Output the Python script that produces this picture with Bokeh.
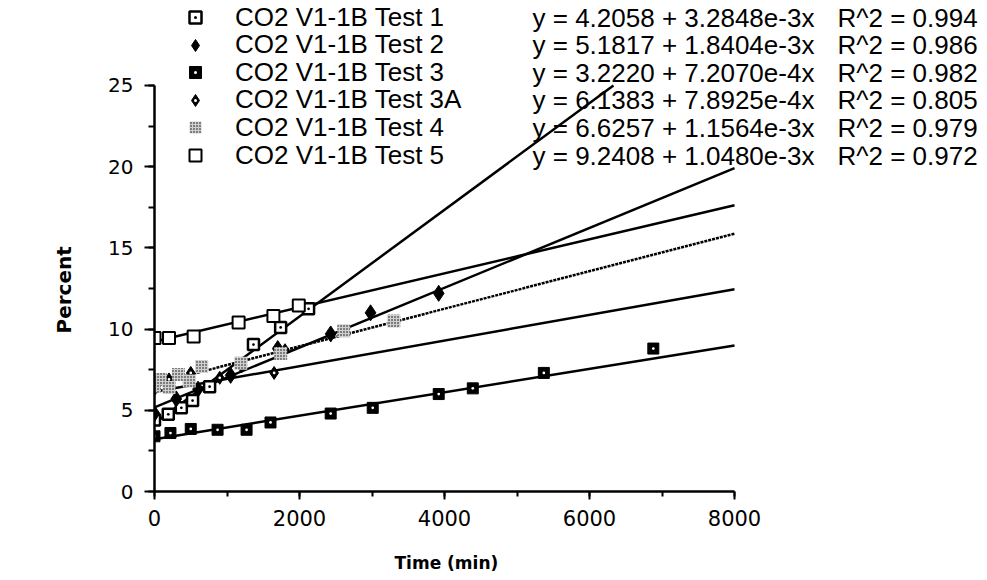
from bokeh.plotting import figure
from bokeh.models import Range1d, SingleIntervalTicker, Legend, LegendItem, Label, Title
from bokeh.embed import file_html
from bokeh.resources import INLINE

# ---- data ----
series_names = ["CO2 V1-1B Test 1", "CO2 V1-1B Test 2", "CO2 V1-1B Test 3",
                "CO2 V1-1B Test 3A", "CO2 V1-1B Test 4", "CO2 V1-1B Test 5"]

t1_time = [0, 190, 370, 525, 760, 1365, 1740, 2125]
t1_pct = [4.4, 4.75, 5.15, 5.6, 6.45, 9.05, 10.1, 11.25]

t2_time = [0, 300, 600, 1050, 1700, 2430, 2980, 3920]
t2_pct = [4.8, 5.7, 6.3, 7.15, 8.8, 9.7, 11.0, 12.2]

t3_time = [0, 220, 500, 870, 1270, 1600, 2430, 3010, 3920, 4390, 5370, 6880]
t3_pct = [3.4, 3.6, 3.85, 3.8, 3.8, 4.25, 4.8, 5.15, 6.0, 6.35, 7.3, 8.8]

t3a_time = [0, 200, 500, 900, 1200, 1650, 1800]
t3a_pct = [6.3, 6.9, 7.3, 7.0, 7.7, 7.3, 8.7]

t4_time = [0, 80, 200, 330, 480, 650, 1190, 1740, 2610, 3300]
t4_pct = [6.5, 6.9, 6.4, 7.2, 6.8, 7.7, 7.9, 8.5, 9.9, 10.5]

t5_time = [0, 200, 540, 1160, 1640, 1990]
t5_pct = [9.45, 9.45, 9.55, 10.4, 10.8, 11.45]

fit_intercepts = [4.2058, 5.1817, 3.2220, 6.1383, 6.6257, 9.2408]
fit_slopes = [3.2848e-3, 1.8404e-3, 7.2070e-4, 7.8925e-4, 1.1564e-3, 1.0480e-3]

equation_texts = ["y = 4.2058 + 3.2848e-3x", "y = 5.1817 + 1.8404e-3x",
                  "y = 3.2220 + 7.2070e-4x", "y = 6.1383 + 7.8925e-4x",
                  "y = 6.6257 + 1.1564e-3x", "y = 9.2408 + 1.0480e-3x"]
r2_texts = ["R^2 = 0.994", "R^2 = 0.986", "R^2 = 0.982",
            "R^2 = 0.805", "R^2 = 0.979", "R^2 = 0.972"]

x_title = "Time (min)"
y_title = "Percent"
x_tick_interval = 2000
y_tick_interval = 5
x_max = 8000
y_max = 25

# ---- figure (frame starts exactly at 0,0 so the axes sit on the zero lines) ----
p = figure(width=979, height=580,
           min_border_left=154, min_border_right=0, min_border_top=0, min_border_bottom=89,
           x_range=Range1d(0, 11379), y_range=Range1d(0, 30.23),
           output_backend="svg", toolbar_location=None)
p.grid.visible = False
p.outline_line_color = None
p.background_fill_color = "white"
p.border_fill_color = "white"

p.xaxis.ticker = SingleIntervalTicker(interval=x_tick_interval, num_minor_ticks=2)
p.yaxis.ticker = SingleIntervalTicker(interval=y_tick_interval, num_minor_ticks=2)
p.xaxis.bounds = (0, x_max)
p.yaxis.bounds = (0, y_max)
for ax in p.axis:
    ax.axis_line_width = 2.5
    ax.axis_line_color = "black"
    ax.major_tick_line_width = 2
    ax.minor_tick_line_width = 2
    ax.major_tick_line_color = "black"
    ax.minor_tick_line_color = "black"
    ax.major_tick_in = 0
    ax.minor_tick_in = 0
    ax.major_label_text_font = "DejaVu Sans"
    ax.major_label_text_color = "black"
p.xaxis.major_label_text_font_size = "21px"
p.yaxis.major_label_text_font_size = "20px"
p.xaxis.major_tick_out = 8
p.xaxis.minor_tick_out = 5
p.yaxis.major_tick_out = 10
p.yaxis.minor_tick_out = 6
p.xaxis.major_label_standoff = 10
p.yaxis.major_label_standoff = 11
# blank spacer label so the x title sits lower
p.xaxis.axis_label = " "
p.xaxis.axis_label_text_font_size = "1px"
p.xaxis.axis_label_standoff = 12

# axis titles, centred on the 0-8000 / 0-25 spans
p.add_layout(Title(text=x_title, align="left", offset=240, standoff=12,
                   text_font="DejaVu Sans", text_font_style="bold",
                   text_font_size="17px", text_color="black"), "below")
p.add_layout(Title(text=y_title, align="left", offset=158, standoff=60,
                   text_font="DejaVu Sans", text_font_style="bold",
                   text_font_size="20px", text_color="black"), "left")

# ---- fit lines ----
for i in range(6):
    a, b = fit_intercepts[i], fit_slopes[i]
    x_end = min(x_max, (y_max - a) / b)
    xs = [0, x_end]
    ys = [a + b * x for x in xs]
    if i == 4:
        p.line(xs, ys, line_color="black", line_width=2.5, line_dash="3 1")
    else:
        p.line(xs, ys, line_color="black", line_width=2.5)

# ---- markers ----
r1 = p.scatter(t1_time, t1_pct, marker="square_dot", size=11, fill_color="white",
               line_color="black", line_width=2.5)
r2 = p.scatter(t2_time, t2_pct, marker="diamond", size=16, fill_color="black",
               line_color="black")
r3a = p.scatter(t3_time, t3_pct, marker="square", size=11, fill_color="black",
                line_color="black")
r3b = p.scatter(t3_time, t3_pct, marker="dot", size=11, line_color="white")
r4a = p.scatter(t3a_time, t3a_pct, marker="diamond", size=13, fill_color="black",
                line_color="black")
r4b = p.scatter(t3a_time, t3a_pct, marker="dot", size=11, line_color="white")
r5 = p.scatter(t4_time, t4_pct, marker="square", size=13, fill_color="#d0d0d0",
               line_color=None, hatch_pattern="dot", hatch_scale=3,
               hatch_color="black", hatch_weight=1)
r6 = p.scatter(t5_time, t5_pct, marker="square", size=12, fill_color="white",
               line_color="black", line_width=2)

renderer_groups = [[r1], [r2], [r3a, r3b], [r4a, r4b], [r5], [r6]]

# one single-entry legend per row so the rows sit on the reference's line pitch
item_height = 31
for i in range(6):
    row_center = 17 + i * 27.6
    lg = Legend(items=[LegendItem(label=series_names[i], renderers=renderer_groups[i])],
                location=(26, 491 - row_center - item_height / 2), orientation="vertical",
                border_line_color=None, background_fill_alpha=0,
                padding=0, margin=0, spacing=0,
                glyph_width=30, glyph_height=30, label_standoff=25,
                label_text_font="Liberation Sans", label_text_font_size="26px",
                label_text_color="black")
    p.add_layout(lg)

# ---- equation texts (positions relative to the plot frame) ----
for i in range(6):
    ys = 491 - (17 + i * 27.6)
    p.add_layout(Label(x=378, y=ys, x_units="screen", y_units="screen",
                       text=equation_texts[i], text_baseline="middle",
                       text_font="Liberation Sans", text_font_size="26px",
                       text_color="black"))
    p.add_layout(Label(x=683, y=ys, x_units="screen", y_units="screen",
                       text=r2_texts[i], text_baseline="middle",
                       text_font="Liberation Sans", text_font_size="26px",
                       text_color="black"))

open("out.html", "w").write(file_html(p, INLINE))
